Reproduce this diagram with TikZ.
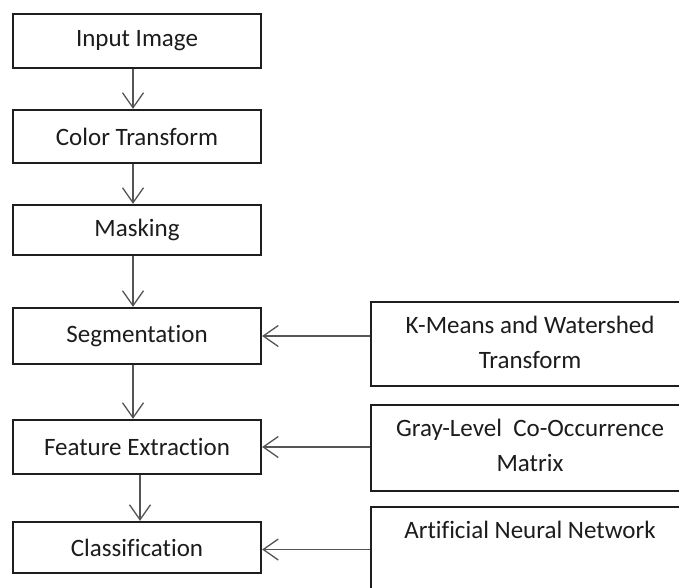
\documentclass[tikz,border=0pt]{standalone}
\usepackage{fontspec}
\setmainfont{Carlito}[Ligatures=NoCommon]
\usetikzlibrary{arrows.meta}
\definecolor{boxline}{HTML}{1E1E1E}
\definecolor{arrowline}{HTML}{555555}
\definecolor{txtcol}{HTML}{1C1C1C}
\tikzset{
  stepbox/.style={draw=boxline, line width=2.3pt, rectangle, minimum width=248pt,
    inner sep=0pt, text=txtcol, font=\fontsize{25}{30}\selectfont},
  sidebox/.style={draw=boxline, line width=2.3pt, rectangle, minimum width=318pt, inner sep=0pt},
  sidetext/.style={anchor=base, inner sep=0pt, text=txtcol, font=\fontsize{25}{30}\selectfont},
  flow/.style={draw=arrowline, line width=1.3pt, -{Straight Barb[length=15pt,width=21pt,line width=1.3pt]}}
}
\begin{document}
\begin{tikzpicture}[x=1pt,y=-1pt]
  \clip (0,0) rectangle (679,587);
  \fill[white] (0,0) rectangle (679,587);

  % main pipeline
  \node[stepbox, minimum height=54pt] (inp) at (137,41)    {Input Image};
  \node[stepbox, minimum height=53pt] (col) at (137,136.5) {Color Transform};
  \node[stepbox, minimum height=50pt] (msk) at (137,230)   {Masking};
  \node[stepbox, minimum height=56pt] (seg) at (137,336)   {Segmentation};
  \node[stepbox, minimum height=54pt] (fex) at (137,447)   {Feature Extraction};
  \node[stepbox, minimum height=51pt] (cls) at (137,547.5) {Classification};

  % methods used at each stage
  \node[sidebox, minimum height=84pt] (km)  at (530,344) {};
  \node[sidetext] (kma) at ([yshift=-33pt]km.north) {K-Means and Watershed};
  \node[sidetext] (kmb) at ([yshift=-68pt]km.north) {Transform};

  \node[sidebox, minimum height=86pt] (glc) at (530,448) {};
  \node[sidetext] (glca) at ([yshift=-33pt]glc.north) {Gray-Level\hspace{0.45em}Co-Occurrence};
  \node[sidetext] (glcb) at ([yshift=-68pt]glc.north) {Matrix};

  \node[sidebox, minimum height=120pt] (ann) at (530,567) {};
  \node[sidetext] (anna) at ([yshift=-33pt]ann.north) {Artificial Neural Network};

  % vertical flow
  \draw[flow] ([xshift=-4pt]inp.south) -- ([xshift=-4pt]col.north);
  \draw[flow] ([xshift=-4pt]col.south) -- ([xshift=-4pt]msk.north);
  \draw[flow] ([xshift=-4pt]msk.south) -- ([xshift=-4pt]seg.north);
  \draw[flow] ([xshift=-4pt]seg.south) -- ([xshift=-4pt]fex.north);
  \draw[flow] ([xshift=3pt]fex.south)  -- ([xshift=3pt]cls.north);

  % side inputs
  \draw[flow] (seg.east -| km.west)  -- (seg.east);
  \draw[flow] (fex.east -| glc.west) -- (fex.east);
  \draw[flow] ([yshift=-2pt]cls.east -| ann.west) -- ([yshift=-2pt]cls.east);
\end{tikzpicture}
\end{document}
